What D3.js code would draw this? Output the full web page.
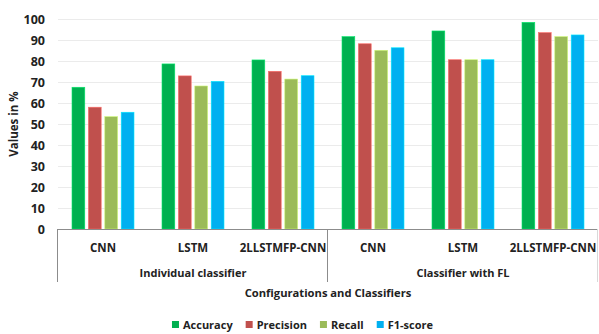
<!DOCTYPE html>
<html>
<head>
<meta charset="utf-8">
<script src="https://cdn.jsdelivr.net/npm/d3@7"></script>
<style>
  html, body { margin: 0; padding: 0; background: #fff; }
  svg { display: block; }
  text { font-family: "Open Sans", "Noto Sans", sans-serif; font-weight: 700; fill: #222; }
</style>
</head>
<body>
<svg id="chart" width="599" height="334"></svg>
<script>
// ---- data ----
const categories = ["CNN", "LSTM", "2LLSTMFP-CNN", "CNN", "LSTM", "2LLSTMFP-CNN"];
const groups = ["Individual classifier", "Classifier with FL"];
const series = ["Accuracy", "Precision", "Recall", "F1-score"];
const accuracy  = [67.5, 78.6, 80.5, 91.6, 94.3, 98.4];
const precision = [58.0, 72.9, 75.1, 88.2, 80.6, 93.5];
const recall    = [53.5, 68.1, 71.4, 85.1, 80.6, 91.6];
const f1score   = [55.6, 70.3, 73.0, 86.3, 80.6, 92.4];
const yTicks = [0, 10, 20, 30, 40, 50, 60, 70, 80, 90, 100];
const colors = ["#00B050", "#C0504D", "#9BBB59", "#00B0F0"];
const xTitle = "Configurations and Classifiers";
const yTitle = "Values in %";

const valuesBySeries = [accuracy, precision, recall, f1score];
const rows = categories.map((c, i) => ({
  idx: i,
  values: series.map((s, j) => ({ series: s, value: valuesBySeries[j][i], color: colors[j] }))
}));

// ---- layout ----
const svg = d3.select("#chart");
const plotLeft = 58, plotRight = 598, plotTop = 19, plotBottom = 229;

const y = d3.scaleLinear().domain([0, 100]).range([plotBottom, plotTop]);
const x0 = d3.scaleBand().domain(d3.range(categories.length)).range([plotLeft, plotRight]).padding(0);
const x1 = d3.scaleBand().domain(series).range([14, 76]).paddingInner(0.22).paddingOuter(0);

// gridlines
svg.append("g").selectAll("line").data(yTicks.filter(t => t > 0)).join("line")
  .attr("x1", plotLeft).attr("x2", plotRight)
  .attr("y1", d => Math.round(y(d)) + 0.5).attr("y2", d => Math.round(y(d)) + 0.5)
  .attr("stroke", "#ebebeb").attr("stroke-width", 1);

// y axis labels
const yAxis = d3.axisLeft(y).tickValues(yTicks).tickSize(0).tickPadding(0);
const yg = svg.append("g").attr("transform", `translate(45,0)`).call(yAxis);
yg.select(".domain").remove();
yg.selectAll("text").attr("font-size", 12.5).attr("font-family", "Open Sans, sans-serif").attr("font-weight", 700).attr("fill", "#222");

// bars
const cat = svg.append("g").selectAll("g").data(rows).join("g")
  .attr("transform", d => `translate(${x0(d.idx)},0)`);
cat.selectAll("rect").data(d => d.values).join("rect")
  .attr("x", d => x1(d.series))
  .attr("width", x1.bandwidth())
  .attr("y", d => y(d.value))
  .attr("height", d => y(0) - y(d.value))
  .attr("fill", d => d.color)
  .attr("stroke", d => d3.color(d.color).brighter(0.8))
  .attr("stroke-width", 0.6);

// x axis baseline and separators
svg.append("line").attr("x1", plotLeft).attr("x2", plotRight)
  .attr("y1", plotBottom + 0.5).attr("y2", plotBottom + 0.5)
  .attr("stroke", "#8c8c8c").attr("stroke-width", 1);
const sepX = [plotLeft, x0(3), plotRight];
svg.append("g").selectAll("line").data(sepX).join("line")
  .attr("x1", d => Math.round(d) - 0.5).attr("x2", d => Math.round(d) - 0.5)
  .attr("y1", plotBottom).attr("y2", 282)
  .attr("stroke", (d, i) => i === 2 ? "#d9d9d9" : "#8c8c8c").attr("stroke-width", 1);

// category labels
svg.append("g").selectAll("text").data(categories).join("text")
  .attr("x", (d, i) => x0(i) + x0.bandwidth() / 2)
  .attr("y", 251.5)
  .attr("text-anchor", "middle")
  .attr("font-size", 11.5)
  .text(d => d);

// group labels
svg.append("g").selectAll("text").data(groups).join("text")
  .attr("x", (d, i) => (x0(i * 3) + x0(i * 3 + 2) + x0.bandwidth()) / 2)
  .attr("y", 277)
  .attr("text-anchor", "middle")
  .attr("font-size", 11)
  .text(d => d);

// axis titles
svg.append("text").attr("x", (plotLeft + plotRight) / 2).attr("y", 297)
  .attr("text-anchor", "middle").attr("font-size", 11.2).text(xTitle);
svg.append("text").attr("transform", `translate(18,124) rotate(-90)`)
  .attr("text-anchor", "middle").attr("font-size", 11.5).text(yTitle);

// legend (laid out from measured text widths, centred)
const legend = svg.append("g");
const items = legend.selectAll("g").data(series).join("g");
items.append("rect").attr("x", 0).attr("y", -4).attr("width", 7).attr("height", 7)
  .attr("fill", (d, i) => colors[i]);
items.append("text").attr("x", 11).attr("y", 4).attr("font-size", 11).text(d => d);
let cx = 0;
const offs = [];
items.each(function () {
  const w = 11 + this.querySelector("text").getComputedTextLength();
  offs.push(cx);
  cx += w + 13;
});
const total = cx - 13;
const start = 302.5 - total / 2;
items.attr("transform", (d, i) => `translate(${start + offs[i]},325)`);
</script>
</body>
</html>
